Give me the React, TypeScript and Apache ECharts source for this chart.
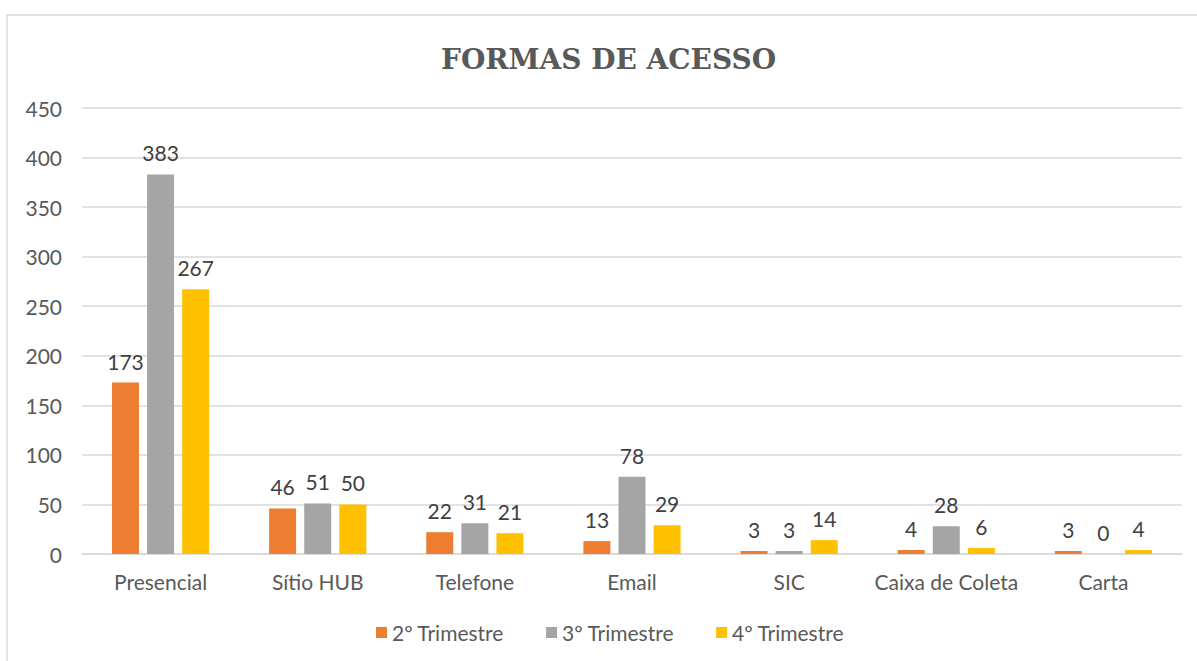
import React, { useEffect, useRef } from "react";
import * as echarts from "echarts";

const categories = ["Presencial", "Sítio HUB", "Telefone", "Email", "SIC", "Caixa de Coleta", "Carta"];
const seriesNames = ["2º Trimestre", "3º Trimestre", "4º Trimestre"];
const q2 = [173, 46, 22, 13, 3, 4, 3];
const q3 = [383, 51, 31, 78, 3, 28, 0];
const q4 = [267, 50, 21, 29, 14, 6, 4];
const colors = ["#ED7D31", "#A5A5A5", "#FFC000"];

export default function App() {
  const ref = useRef<HTMLDivElement>(null);
  useEffect(() => {
    const chart = echarts.init(ref.current!, null, { renderer: "svg" });
    const font = "Lato";
    const fs = 21;
    const values = [q2, q3, q4];
    chart.setOption({
      animation: false,
      backgroundColor: "#ffffff",
      title: {
        text: "FORMAS DE ACESSO",
        left: 436,
        top: 40,
        textStyle: { fontFamily: "DejaVu Serif", fontWeight: "bold", fontSize: 28, color: "#595959" },
      },
      legend: {
        bottom: 13,
        left: 371,
        itemWidth: 11,
        itemHeight: 11,
        itemGap: 42,
        icon: "rect",
        textStyle: { fontFamily: font, fontSize: fs, color: "#595959" },
        data: seriesNames,
      },
      grid: { left: 82, right: 15, top: 108, bottom: 107, containLabel: false },
      xAxis: {
        type: "category",
        data: categories,
        axisLine: { lineStyle: { color: "#d9d9d9", width: 1.5 } },
        axisTick: { show: false },
        axisLabel: { fontFamily: font, fontSize: fs, color: "#595959", margin: 17, interval: 0 },
      },
      yAxis: {
        type: "value",
        min: 0,
        max: 450,
        interval: 50,
        axisLine: { show: false },
        axisTick: { show: false },
        splitLine: { lineStyle: { color: "#d9d9d9", width: 1.5 } },
        axisLabel: { fontFamily: font, fontSize: fs, color: "#595959", margin: 20 },
      },
      series: seriesNames.map((name, i) => ({
        name,
        type: "bar",
        data: values[i],
        barWidth: 27,
        barGap: "30%",
        itemStyle: { color: colors[i] },
        label: {
          show: true,
          position: "top",
          distance: 11,
          fontFamily: font,
          fontSize: fs,
          color: "#404040",
        },
      })),
      graphic: [
        {
          type: "rect",
          shape: { x: 7, y: 15, width: 1200, height: 700 },
          style: { fill: "none", stroke: "#d9d9d9", lineWidth: 1.5 },
          silent: true,
        },
      ],
    });
    return () => chart.dispose();
  }, []);
  return <div ref={ref} style={{ position: "fixed", left: 0, top: 0, width: 1197, height: 661 }} />;
}
